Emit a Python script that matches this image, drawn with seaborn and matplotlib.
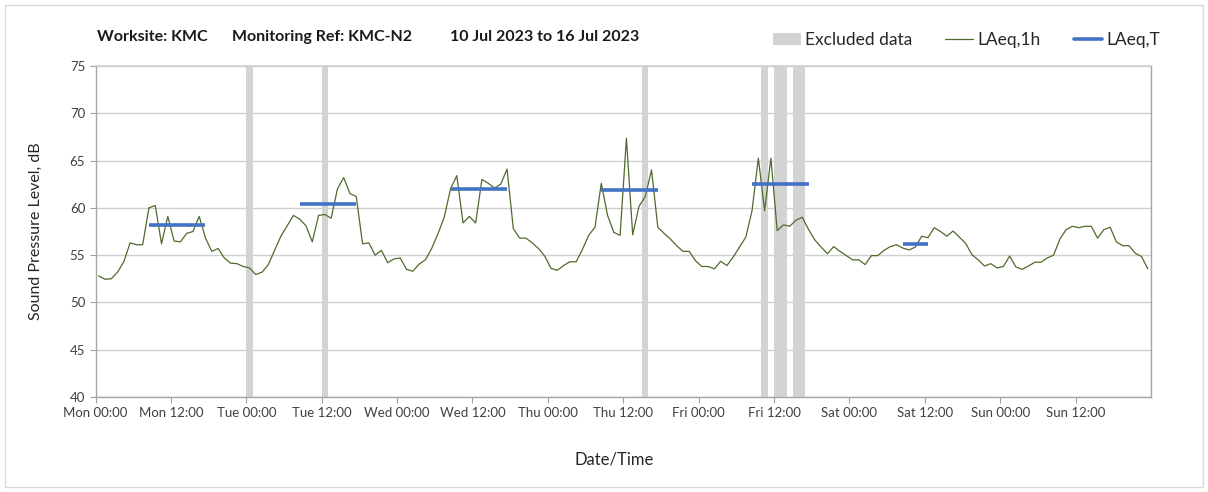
import numpy as np
import pandas as pd
import seaborn as sns
import matplotlib.pyplot as plt
from matplotlib.patches import Patch, Rectangle
from matplotlib.lines import Line2D
from matplotlib.ticker import MultipleLocator

sns.set_theme(style="white")
plt.rcParams['font.family'] = ['Lato', 'DejaVu Sans']

# hourly LAeq,1h values, Mon 00:00 .. Sun 23:00
laeq_1h = [
    52.8, 52.45, 52.5, 53.2, 54.3, 56.3, 56.1, 56.1, 60.0, 60.25,
    56.2, 59.1, 56.5, 56.4, 57.3, 57.5, 59.1, 56.8, 55.4, 55.7,
    54.7, 54.15, 54.1, 53.8, 53.65, 52.95, 53.2, 54.0, 55.5, 57.0,
    58.1, 59.2, 58.8, 58.1, 56.4, 59.2, 59.3, 58.9, 62.0, 63.2,
    61.5, 61.2, 56.2, 56.3, 55.0, 55.5, 54.2, 54.6, 54.7, 53.5,
    53.3, 54.05, 54.5, 55.7, 57.25, 59.0, 62.0, 63.4, 58.4, 59.1,
    58.4, 63.0, 62.6, 62.1, 62.5, 64.1, 57.8, 56.8, 56.8, 56.3,
    55.7, 54.9, 53.6, 53.4, 53.9, 54.3, 54.3, 55.6, 57.1, 57.95,
    62.6, 59.2, 57.4, 57.1, 67.35, 57.15, 60.15, 61.2, 64.0, 57.95,
    57.3, 56.7, 56.0, 55.4, 55.4, 54.4, 53.8, 53.8, 53.55, 54.35,
    53.9, 54.8, 55.85, 56.9, 59.7, 65.25, 59.7, 65.25, 57.6, 58.2,
    58.05, 58.7, 59.0, 57.7, 56.6, 55.85, 55.15, 55.9, 55.4, 54.95,
    54.5, 54.5, 54.0, 54.95, 54.95, 55.5, 55.9, 56.1, 55.75, 55.55,
    55.85, 57.0, 56.85, 57.9, 57.5, 57.0, 57.55, 56.9, 56.25, 55.05,
    54.5, 53.85, 54.1, 53.65, 53.8, 54.9, 53.75, 53.5, 53.85, 54.25,
    54.25, 54.7, 55.0, 56.7, 57.7, 58.05, 57.9, 58.05, 58.05, 56.8,
    57.7, 57.95, 56.4, 56.0, 56.0, 55.2, 54.85, 53.55,
]

# LAeq,T daytime periods (hour from/to) and levels
period_start = [8.5, 32.5, 56.5, 80.5, 104.5, 128.5]
period_end = [17.5, 41.5, 65.5, 89.5, 113.5, 132.5]
laeq_t = [58.2, 60.4, 62.0, 61.9, 62.5, 56.2]

# excluded data spans (hours)
excl_start = [24, 36, 87, 106, 108, 111]
excl_end = [25, 37, 88, 107, 110, 113]

day_names = ['Mon', 'Tue', 'Wed', 'Thu', 'Fri', 'Sat', 'Sun']
tick_labels = [f'{d} {h}' for d in day_names for h in ('00:00', '12:00')]

title_parts = ['Worksite: KMC', 'Monitoring Ref: KMC-N2', '10 Jul 2023 to 16 Jul 2023']
title_x = [97, 232, 450]

df = pd.DataFrame({'hour': np.arange(len(laeq_1h)) + 0.5, 'level': laeq_1h})

green = '#4f6b2c'
blue = '#4472c4'
grey = '#d3d3d3'

fig = plt.figure(figsize=(12.08, 4.92), dpi=100)
ax = fig.add_axes([0.0791, 0.193, 0.8737, 0.673])

for s, e in zip(excl_start, excl_end):
    ax.axvspan(s, e, color=grey, lw=0, zorder=1)

sns.lineplot(data=df, x='hour', y='level', color=green, lw=0.9, ax=ax, zorder=3)

for s, e, v in zip(period_start, period_end, laeq_t):
    ax.plot([s, e], [v, v], color=blue, lw=2.6, solid_capstyle='butt', zorder=4)

ax.set_xlim(0, 168)
ax.set_ylim(40, 75)
ax.set_xticks(np.arange(0, 168, 12))
ax.set_xticklabels(tick_labels, fontsize=9.5, color='#404040')
ax.xaxis.set_minor_locator(MultipleLocator(24))
ax.set_yticks(np.arange(40, 76, 5))
ax.tick_params(axis='y', labelsize=9.5, labelcolor='#404040', length=4, color='#a0a0a0',
               left=True, width=0.8)
ax.tick_params(axis='x', which='major', length=4, color='#a0a0a0', bottom=True, width=0.8)
ax.tick_params(axis='x', which='minor', length=0)
ax.grid(axis='y', which='major', color='#d0d0d0', lw=1)
ax.grid(axis='x', which='minor', color='#dedede', lw=1)
ax.grid(axis='x', which='major', visible=False)
ax.set_axisbelow(True)

for side in ['left', 'bottom', 'right']:
    ax.spines[side].set_color('#a6a6a6')
    ax.spines[side].set_linewidth(1)
ax.spines['top'].set_color('#d0d0d0')

ax.set_xlabel('Date/Time', fontsize=12, color='#262626')
ax.xaxis.set_label_coords(0.491, -0.163)
ax.set_ylabel('Sound Pressure Level, dB', fontsize=11.5, color='#262626')
ax.yaxis.set_label_coords(-0.05, 0.5)

for part, px in zip(title_parts, title_x):
    fig.text(px / 1208, 0.925, part, fontsize=11.5, fontweight='bold',
             color='#1a1a1a', va='center')

handles = [Patch(facecolor=grey, edgecolor='none'),
           Line2D([], [], color=green, lw=0.9),
           Line2D([], [], color=blue, lw=2.6)]
fig.legend(handles, ['Excluded data', 'LAeq,1h', 'LAeq,T'], ncol=3, frameon=False,
           loc='center right', bbox_to_anchor=(0.96, 0.918), fontsize=12.5,
           handlelength=1.6, handletextpad=0.25, columnspacing=1.9,
           borderpad=0, borderaxespad=0, labelcolor='#262626')

fig.add_artist(Rectangle((5 / 1208, 5 / 492), 1198 / 1208, 482 / 492,
                         transform=fig.transFigure, fill=False, edgecolor='#d9d9d9', lw=1))

fig.savefig('out.png', dpi=100)
